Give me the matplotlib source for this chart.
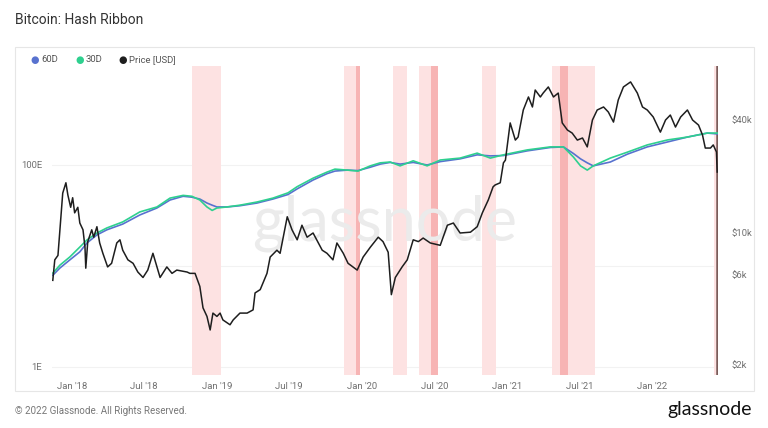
import matplotlib
matplotlib.use("Agg")
import matplotlib.pyplot as plt
import pandas as pd
from matplotlib.patches import Rectangle

plt.rcParams["font.family"] = ["Roboto", "DejaVu Sans"]

# ---------------- data ----------------
price_dates = [
    "2017-11-14", "2017-11-19", "2017-11-27", "2017-12-07", "2017-12-09", "2017-12-17", "2017-12-22",
    "2017-12-29", "2018-01-03", "2018-01-08", "2018-01-16", "2018-01-21", "2018-01-29", "2018-02-03",
    "2018-02-05", "2018-02-10", "2018-02-20", "2018-02-25", "2018-03-05", "2018-03-12", "2018-03-20",
    "2018-04-01", "2018-04-11", "2018-04-24", "2018-05-02", "2018-05-09", "2018-05-22", "2018-06-04",
    "2018-06-16", "2018-06-29", "2018-07-11", "2018-07-24", "2018-08-03", "2018-08-11", "2018-08-28",
    "2018-09-10", "2018-09-22", "2018-10-18", "2018-10-25", "2018-11-07", "2018-11-19", "2018-11-27",
    "2018-12-07", "2018-12-15", "2018-12-22", "2019-01-01", "2019-01-09", "2019-01-16", "2019-02-03",
    "2019-02-11", "2019-02-28", "2019-03-18", "2019-04-02", "2019-04-07", "2019-04-20", "2019-05-07",
    "2019-05-15", "2019-06-01", "2019-06-09", "2019-06-27", "2019-07-09", "2019-07-22", "2019-08-03",
    "2019-08-16", "2019-08-31", "2019-09-23", "2019-10-05", "2019-10-20", "2019-10-30", "2019-11-15",
    "2019-11-27", "2019-12-20", "2020-01-04", "2020-01-22", "2020-02-11", "2020-02-23", "2020-03-07",
    "2020-03-15", "2020-03-25", "2020-04-11", "2020-04-24", "2020-05-09", "2020-05-22", "2020-06-03",
    "2020-06-21", "2020-07-16", "2020-08-03", "2020-08-18", "2020-09-04", "2020-09-30", "2020-10-17",
    "2020-10-30", "2020-11-14", "2020-11-26", "2020-12-01", "2020-12-14", "2020-12-22", "2020-12-27",
    "2021-01-08", "2021-01-21", "2021-01-28", "2021-02-10", "2021-02-23", "2021-03-05", "2021-03-12",
    "2021-03-25", "2021-04-01", "2021-04-14", "2021-04-27", "2021-05-09", "2021-05-19", "2021-06-01",
    "2021-06-13", "2021-06-26", "2021-07-09", "2021-07-21", "2021-08-03", "2021-08-15", "2021-08-31",
    "2021-09-12", "2021-09-25", "2021-10-07", "2021-10-20", "2021-11-07", "2021-11-24", "2021-12-07",
    "2021-12-19", "2022-01-03", "2022-01-21", "2022-02-03", "2022-02-15", "2022-02-28", "2022-03-13",
    "2022-03-30", "2022-04-12", "2022-04-27", "2022-05-07", "2022-05-14", "2022-05-27", "2022-06-03",
    "2022-06-11", "2022-06-13",
]
price_usd = [
    5600, 7200, 7600, 14400, 16300, 18500, 15900,
    13700, 15400, 12800, 13700, 11300, 10400, 8400,
    6500, 9000, 10400, 9500, 10800, 8850, 7800,
    6600, 6900, 8850, 9200, 8100, 7200, 6900,
    6200, 5800, 6350, 7800, 6600, 5800, 6600,
    6100, 6350, 6200, 6100, 6100, 5200, 4000,
    3600, 3050, 3750, 3600, 3750, 3450, 3250,
    3450, 3750, 3750, 3900, 4800, 5000, 6100,
    7450, 8100, 7800, 12200, 10400, 9200, 11000,
    9500, 10000, 8100, 7800, 7200, 8850, 7800,
    6900, 6350, 7450, 8400, 9500, 9000, 7900,
    4700, 5800, 6600, 7200, 9200, 9000, 9400,
    8850, 8600, 11000, 11300, 10000, 10100, 10800,
    12800, 15000, 17600, 18000, 18500, 23600, 24400,
    38500, 31200, 32400, 45100, 52900, 46800, 57600,
    52900, 55500, 59800, 52900, 55500, 38500, 35300,
    34000, 31200, 32000, 28700, 39900, 45100, 46800,
    44000, 38900, 51000, 59800, 63600, 55500, 46800,
    45100, 41400, 34400, 39900, 42400, 36600, 41400,
    45100, 39900, 37500, 33200, 28300, 28300, 29400,
    27000, 21100,
]

hash_dates = [
    "2017-11-14", "2017-12-02", "2017-12-27", "2018-01-21", "2018-02-08", "2018-03-05", "2018-03-30",
    "2018-05-09", "2018-06-21", "2018-08-03", "2018-09-05", "2018-10-08", "2018-10-30", "2018-11-19",
    "2018-12-07", "2018-12-20", "2019-01-01", "2019-01-26", "2019-02-28", "2019-04-12", "2019-05-22",
    "2019-06-29", "2019-07-22", "2019-08-31", "2019-10-05", "2019-10-25", "2019-11-25", "2019-12-22",
    "2020-01-22", "2020-02-16", "2020-03-12", "2020-04-06", "2020-05-09", "2020-06-13", "2020-07-16",
    "2020-09-04", "2020-10-17", "2020-11-19", "2020-12-22", "2021-02-20", "2021-04-19", "2021-05-22",
    "2021-06-16", "2021-07-04", "2021-07-21", "2021-08-05", "2021-09-17", "2021-10-30", "2021-12-19",
    "2022-02-08", "2022-03-30", "2022-05-19", "2022-06-13",
]
hash_30d = [
    8.5, 10.2, 12.3, 15.4, 18.1, 21.2, 23.8,
    27.3, 34.3, 38.4, 47, 50, 49, 45,
    38.4, 35.5, 37.5, 38.4, 40, 43, 47,
    53, 61, 74, 85, 91, 89, 87,
    98, 105, 107, 98, 110, 98, 112,
    117, 131, 117, 126, 141, 151, 151,
    120, 98, 89, 98, 117, 134, 158,
    177, 189, 207, 207,
]
hash_60d = [
    8.1, 9.55, 11.5, 13.8, 16.9, 20.3, 22.8,
    26.0, 32.0, 37.5, 45, 49, 48, 46,
    42, 40, 38.4, 38.4, 39.5, 42, 46,
    51, 58, 71, 82, 87, 89, 88,
    95, 102, 106, 102, 106, 100, 108,
    115, 126, 123, 124, 138, 149, 151,
    130, 115, 105, 98, 107, 128, 151,
    169, 189, 207, 203,
]

# capitulation bands (light) and stronger sub-bands
band_start = ["2018-10-30", "2019-11-18", "2020-03-20", "2020-05-24", "2020-10-30", "2021-04-24", "2022-06-06"]
band_end = ["2019-01-11", "2019-12-28", "2020-04-24", "2020-07-11", "2020-12-04", "2021-08-10", "2022-06-13"]
strong_start = ["2019-12-18", "2020-06-23", "2021-05-14"]
strong_end = ["2019-12-28", "2020-07-11", "2021-06-03"]
signal_date = "2022-06-13"

left_ticks = [1, 100]
left_labels = ["1E", "100E"]
right_ticks = [2000, 6000, 10000, 40000]
right_labels = ["$2k", "$6k", "$10k", "$40k"]
x_ticks = ["2018-01-01", "2018-07-01", "2019-01-01", "2019-07-01", "2020-01-01",
           "2020-07-01", "2021-01-01", "2021-07-01", "2022-01-01"]
x_labels = ["Jan '18", "Jul '18", "Jan '19", "Jul '19", "Jan '20",
            "Jul '20", "Jan '21", "Jul '21", "Jan '22"]

# ---------------- figure ----------------
W, H = 768, 428
fig = plt.figure(figsize=(W / 100, H / 100), dpi=100)
fig.patch.set_facecolor("white")

# panel box
fig.patches.append(Rectangle((15 / W, 1 - 391 / H), (754 - 15) / W, (391 - 47) / H,
                             transform=fig.transFigure, facecolor="none",
                             edgecolor="#e6e6e6", linewidth=0.8, zorder=-5))

ax = fig.add_axes([52 / W, 1 - 375 / H, (718 - 52) / W, (375 - 66) / H])
ax.set_facecolor("none")
ax2 = ax.twinx()
ax2.set_facecolor("none")

pd_ = lambda s: pd.to_datetime(s)

for s, e in zip(band_start, band_end):
    ax.axvspan(pd_(s), pd_(e), color="#fde2e2", lw=0, zorder=0.3)
for s, e in zip(strong_start, strong_end):
    ax.axvspan(pd_(s), pd_(e), color="#f7b4b4", lw=0, zorder=0.4)
ax.axvline(pd_(signal_date), color="#7a5c5a", lw=1.8, zorder=0.5)

ax.text(0.5, 0.49, "glassnode", transform=ax.transAxes, ha="center", va="center",
        fontsize=44, color="#ebebeb", family="Lato", zorder=0.6)

hd = pd_(hash_dates)
ax.plot(hd, hash_60d, color="#5872cf", lw=1.2, zorder=2)
ax.plot(hd, hash_30d, color="#2ed08f", lw=1.2, zorder=2.1)
ax.set_yscale("log")
ax.set_ylim(0.833, 955)
ax.set_yticks(left_ticks)
ax.set_yticklabels(left_labels)
ax.yaxis.set_minor_locator(matplotlib.ticker.NullLocator())
for v in [1, 10, 100]:
    ax.axhline(v, color="#f2f2f2", lw=0.8, zorder=0.2)

ax2.plot(pd_(price_dates), price_usd, color="#1e1e1e", lw=1.1, zorder=3)
ax2.set_yscale("log")
ax2.set_ylim(1757, 77300)
ax2.set_yticks(right_ticks)
ax2.set_yticklabels(right_labels)
ax2.yaxis.set_minor_locator(matplotlib.ticker.NullLocator())

ax.set_xlim(pd_("2017-11-12"), pd_("2022-06-15"))
ax.set_xticks(pd_(x_ticks))
ax.set_xticklabels(x_labels)

for a in (ax, ax2):
    for sp in a.spines.values():
        sp.set_visible(False)
    a.tick_params(length=0, labelsize=6.8, labelcolor="#707070")
ax.tick_params(axis="y", pad=7)
ax2.tick_params(axis="y", pad=10)
ax.tick_params(axis="x", pad=5)

# title, legend, footer
fig.text(15 / W, 1 - 20 / H, "Bitcoin: Hash Ribbon", fontsize=10, color="#333333",
         va="center", ha="left")
leg = [("60D", "#5872cf", 35), ("30D", "#2ed08f", 80), ("Price [USD]", "#1e1e1e", 123)]
for lab, col, x in leg:
    fig.text(x / W, 1 - 60 / H, "\u25CF", color=col, fontsize=7, va="center", ha="center",
             family="DejaVu Sans")
    fig.text((x + 6) / W, 1 - 60 / H, lab, color="#555555", fontsize=6.8, va="center", ha="left")

fig.text(15 / W, 1 - 411 / H, "\u00A9 2022 Glassnode. All Rights Reserved.", fontsize=7,
         color="#777777", va="center", ha="left")
fig.text(752 / W, 1 - 410 / H, "glassnode", fontsize=14, color="#111111", va="center",
         ha="right", family="Lato")

fig.savefig("out.png", dpi=100)
